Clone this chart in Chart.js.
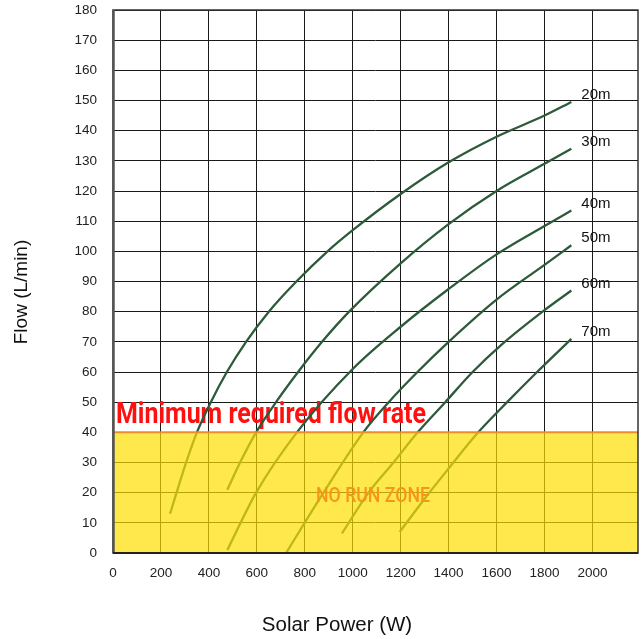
<!DOCTYPE html>
<html>
<head>
<meta charset="utf-8">
<script src="https://cdn.jsdelivr.net/npm/chart.js@4"></script>
<style>
  html, body { margin: 0; padding: 0; background: #fff; }
  #wrap { width: 643px; height: 639px; }
</style>
</head>
<body>
<div id="wrap"><canvas id="c"></canvas></div>
<script>
// pump curves: solar power (W) vs flow (L/min) for each head
const heads = ["20m", "30m", "40m", "50m", "60m", "70m"];

const power20 = [238, 265, 305, 350, 408, 475, 555, 650, 765, 895, 1000, 1200, 1400, 1600, 1800, 1912];
const flow20  = [13, 20, 30, 40, 50, 60, 70, 80, 90, 100, 107, 119, 129.5, 138, 145, 149.5];

const power30 = [477, 530, 597, 680, 772, 872, 985, 1200, 1400, 1600, 1800, 1912];
const flow30  = [21, 30, 40, 50, 60, 70, 80, 96, 109, 120, 129, 134];

const power40 = [477, 597, 767, 1000, 1200, 1400, 1600, 1800, 1912];
const flow40  = [1, 20, 40, 61, 75, 87.5, 99, 108.4, 113.5];

const power50 = [722, 878, 1044, 1150, 1270, 1400, 1600, 1800, 1912];
const flow50  = [0, 20, 40, 50, 60, 70, 84, 95.5, 102];

const power60 = [955, 1066, 1170, 1271, 1386, 1500, 1620, 1800, 1912];
const flow60  = [6.5, 20, 30, 40, 50, 60, 69, 80.5, 87];

const power70 = [1196, 1300, 1400, 1518, 1644, 1769, 1912];
const flow70  = [7, 18, 28, 39.5, 50, 60, 71];

const xTicks = [0, 200, 400, 600, 800, 1000, 1200, 1400, 1600, 1800, 2000];
const xMax = 2190;
const yMax = 180;
const minFlow = 40;

const powers = [power20, power30, power40, power50, power60, power70];
const flows = [flow20, flow30, flow40, flow50, flow60, flow70];

const FONT = '"Liberation Sans", Arial, Helvetica, sans-serif';
const CAPTION = 'Roboto, "Liberation Sans", sans-serif';

// squeeze text horizontally to a given width (condensed look)
function fitText(ctx, text, x, y, width) {
  const w = ctx.measureText(text).width;
  ctx.save();
  ctx.translate(x, y);
  ctx.scale(width / w, 1);
  ctx.fillText(text, 0, 0);
  ctx.restore();
}

const zonePlugin = {
  id: 'zone',
  beforeDatasetsDraw(chart) {
    const { ctx, chartArea: a, scales: { y } } = chart;
    ctx.save();
    ctx.fillStyle = '#ff1010';
    ctx.font = 'bold 29px ' + CAPTION;
    ctx.textBaseline = 'alphabetic';
    fitText(ctx, 'Minimum required flow rate', a.left + 3, y.getPixelForValue(minFlow) - 9, 310);
    ctx.restore();
  },
  afterDatasetsDraw(chart) {
    const { ctx, chartArea: a, scales: { y } } = chart;
    const y40 = y.getPixelForValue(minFlow);
    ctx.save();
    ctx.fillStyle = 'rgba(255,222,0,0.7)';
    ctx.fillRect(a.left, y40, a.right - a.left, a.bottom - y40);

    ctx.strokeStyle = '#f08a2a';
    ctx.lineWidth = 2;
    ctx.beginPath();
    ctx.moveTo(a.left, y40);
    ctx.lineTo(a.right, y40);
    ctx.stroke();

    // frame
    ctx.strokeStyle = '#333';
    ctx.lineWidth = 1.5;
    ctx.strokeRect(a.left, a.top, a.right - a.left, a.bottom - a.top);
    ctx.strokeStyle = '#555';
    ctx.lineWidth = 2.5;
    ctx.beginPath();
    ctx.moveTo(a.left + 0.5, a.top);
    ctx.lineTo(a.left + 0.5, a.bottom);
    ctx.stroke();
    ctx.strokeStyle = '#222';
    ctx.lineWidth = 2;
    ctx.beginPath();
    ctx.moveTo(a.left, a.bottom);
    ctx.lineTo(a.right, a.bottom);
    ctx.stroke();

    ctx.fillStyle = '#f7941d';
    ctx.font = '500 20px ' + CAPTION;
    ctx.textBaseline = 'middle';
    fitText(ctx, 'NO RUN ZONE', 316, 497, 114);

    // head labels at curve ends
    ctx.fillStyle = '#111';
    ctx.font = '15px ' + FONT;
    ctx.textBaseline = 'middle';
    ctx.textAlign = 'left';
    chart.data.datasets.forEach((ds, i) => {
      const pts = chart.getDatasetMeta(i).data;
      const last = pts[pts.length - 1];
      ctx.fillText(heads[i], last.x + 10, last.y - 7);
    });

    // axis titles (placed as in the original, off the plot centre)
    ctx.fillStyle = '#111';
    ctx.font = '20.5px ' + FONT;
    ctx.textAlign = 'center';
    ctx.fillText('Solar Power (W)', 337, 625);
    ctx.translate(22, 292);
    ctx.rotate(-Math.PI / 2);
    ctx.font = '19px ' + FONT;
    ctx.fillText('Flow (L/min)', 0, 0);
    ctx.restore();
  }
};

new Chart(document.getElementById('c'), {
  type: 'line',
  data: {
    datasets: heads.map((h, i) => ({
      label: h,
      data: powers[i].map((p, j) => ({ x: p, y: flows[i][j] })),
      borderColor: '#2c5a3a',
      borderWidth: 2.3,
      pointRadius: 0,
      fill: false,
      cubicInterpolationMode: 'monotone'
    }))
  },
  options: {
    responsive: true,
    maintainAspectRatio: false,
    animation: false,
    layout: { padding: { top: 10, right: 5, left: 0, bottom: 0 } },
    plugins: { legend: { display: false }, tooltip: { enabled: false } },
    scales: {
      x: {
        type: 'linear',
        min: 0,
        max: xMax,
        afterBuildTicks: s => { s.ticks = xTicks.map(v => ({ value: v })); },
        afterFit: s => { s.height = 86; s.paddingRight = 0; s.paddingLeft = 0; },
        grid: { color: '#1a1a1a', lineWidth: 1, drawTicks: false },
        border: { display: false },
        ticks: { padding: 12, color: '#222', font: { family: FONT, size: 13.5 }, maxRotation: 0, callback: v => String(v) },
        title: { display: false }
      },
      y: {
        min: 0,
        max: yMax,
        afterFit: s => { s.width = 113; s.paddingTop = 0; s.paddingBottom = 0; },
        grid: { color: '#1a1a1a', lineWidth: 1, drawTicks: false },
        border: { display: false },
        ticks: { stepSize: 10, padding: 16, color: '#222', font: { family: FONT, size: 13.5 } },
        title: { display: false }
      }
    }
  },
  plugins: [zonePlugin]
});
</script>
</body>
</html>
